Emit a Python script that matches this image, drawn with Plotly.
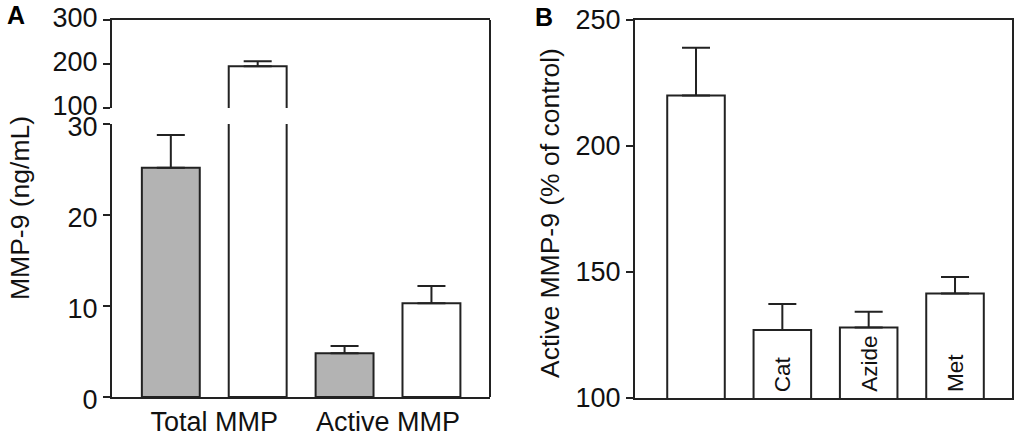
import plotly.graph_objects as go

# ---------------- data ----------------
categories_A = ["Total MMP", "Active MMP"]
gray_values_A = [25.2, 4.8]
gray_errors_A = [3.6, 0.8]
white_values_A = [195, 10.3]
white_errors_A = [11, 1.9]

labels_B = ["", "Cat", "Azide", "Met"]
values_B = [220, 127, 128, 141.5]
errors_B = [19, 10.3, 6.2, 6.5]

# ---------------- style ----------------
LINE = "#222222"
GRAY = "#b3b3b3"
FONT = "Liberation Sans, Arial, sans-serif"
BARGAP = 0.0
GROUPGAP = 1 / 3

W, H = 1026, 446
xdomA = [112 / W, 490 / W]
ydomA_low = [1 - 397 / H, 1 - 124 / H]
ydomA_high = [1 - 108 / H, 1 - 20 / H]
xdomB = [635 / W, 1012 / W]
ydomB = [1 - 398 / H, 1 - 20 / H]

fig = go.Figure()

def err(arr):
    return dict(type="data", array=arr, arrayminus=[0] * len(arr), symmetric=False,
                color=LINE, thickness=2, width=14)

for xa, ya in (("x", "y"), ("x2", "y2")):
    fig.add_trace(go.Bar(x=categories_A, y=gray_values_A, error_y=err(gray_errors_A),
                         marker=dict(color=GRAY, line=dict(color=LINE, width=2)),
                         xaxis=xa, yaxis=ya, showlegend=False, hoverinfo="skip"))
    fig.add_trace(go.Bar(x=categories_A, y=white_values_A, error_y=err(white_errors_A),
                         marker=dict(color="white", line=dict(color=LINE, width=2)),
                         xaxis=xa, yaxis=ya, showlegend=False, hoverinfo="skip"))

xB = list(range(len(values_B)))
fig.add_trace(go.Bar(x=xB, y=values_B, error_y=err(errors_B),
                     marker=dict(color="white", line=dict(color=LINE, width=2)),
                     xaxis="x3", yaxis="y3", showlegend=False, hoverinfo="skip"))

# labels written upward at the base of each bar in panel B
for xi, lab in zip(xB, labels_B):
    if lab:
        fig.add_annotation(text=lab, xref="x3", yref="y3", x=xi, y=100, yanchor="bottom",
                           yshift=4, textangle=-90, showarrow=False,
                           font=dict(family=FONT, size=22.5, color="#111"))

axis_common = dict(showgrid=False, zeroline=False, linecolor=LINE, linewidth=2,
                   automargin=False, tickfont=dict(family=FONT, size=27, color="#111"))
yaxis_common = dict(axis_common, ticks="outside", ticklen=7, tickwidth=2, tickcolor=LINE,
                    showline=True)

fig.update_layout(
    width=W, height=H, margin=dict(l=0, r=0, t=0, b=0, autoexpand=False),
    paper_bgcolor="white", plot_bgcolor="rgba(0,0,0,0)",
    barmode="group", bargap=BARGAP, bargroupgap=GROUPGAP,
    xaxis=dict(axis_common, domain=xdomA, anchor="y", type="category",
               range=[-0.5885, 1.587], showline=True, ticks=""),
    yaxis=dict(yaxis_common, domain=ydomA_low, anchor="x", range=[0, 30],
               tickvals=[0, 10, 20, 30], ticklabelshift=3),
    xaxis2=dict(axis_common, domain=xdomA, anchor="y2", matches="x", side="top",
                showline=True, showticklabels=False, ticks=""),
    yaxis2=dict(yaxis_common, domain=ydomA_high, anchor="x2", range=[100, 300],
                tickvals=[100, 200, 300], ticklabelshift=-2),
    xaxis3=dict(axis_common, domain=xdomB, anchor="y3", range=[-0.7066, 3.66],
                showline=True, mirror=True, showticklabels=False, ticks=""),
    yaxis3=dict(yaxis_common, domain=ydomB, anchor="x3", range=[100, 250],
                tickvals=[100, 150, 200, 250], mirror=True),
)

# right border of panel A spanning both segments
fig.add_shape(type="line", xref="x domain", yref="paper", x0=1, x1=1,
              y0=ydomA_low[0], y1=ydomA_high[1], line=dict(color=LINE, width=2))

# axis-break hooks on the tall white bar edges
slot = (1 - BARGAP) / 2
bar_w = slot * (1 - GROUPGAP)
center = 0 + slot / 2
for edge in (center - bar_w / 2, center + bar_w / 2):
    fig.add_shape(type="path", xref="x2", yref="y2", xsizemode="pixel", ysizemode="pixel",
                  xanchor=edge, yanchor=100, path="M 0 0 Q 0 -3 -5 -2",
                  line=dict(color=LINE, width=2))
    fig.add_shape(type="path", xref="x", yref="y", xsizemode="pixel", ysizemode="pixel",
                  xanchor=edge, yanchor=30, path="M 0 0 Q 0 3 -5 2",
                  line=dict(color=LINE, width=2))

# titles and panel letters
fig.add_annotation(text="MMP-9 (ng/mL)", xref="paper", yref="paper", x=20 / W, y=1 - 208 / H,
                   xanchor="center", yanchor="middle",
                   textangle=-90, showarrow=False, font=dict(family=FONT, size=26.5, color="#111"))
fig.add_annotation(text="Active MMP-9 (% of control)", xref="paper", yref="paper",
                   x=550 / W, y=1 - 213 / H, xanchor="center", yanchor="middle",
                   textangle=-90, showarrow=False,
                   font=dict(family=FONT, size=26.5, color="#111"))
fig.add_annotation(text="<b>A</b>", xref="paper", yref="paper", x=16 / W, y=1 - 15 / H,
                   xanchor="center", yanchor="middle",
                   showarrow=False, font=dict(family=FONT, size=25, color="#000"))
fig.add_annotation(text="<b>B</b>", xref="paper", yref="paper", x=544 / W, y=1 - 17 / H,
                   xanchor="center", yanchor="middle",
                   showarrow=False, font=dict(family=FONT, size=25, color="#000"))

fig.write_html("out.html")
